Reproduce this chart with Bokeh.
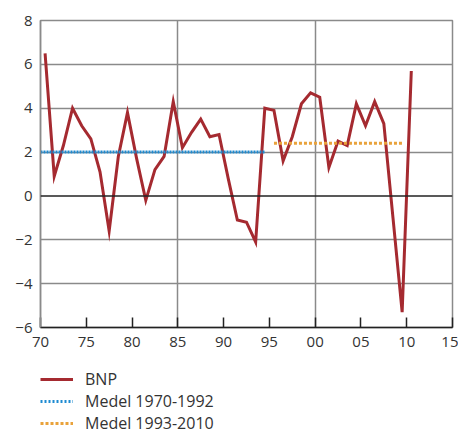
from bokeh.plotting import figure
from bokeh.layouts import column
from bokeh.models import FixedTicker, Span, Legend, LegendItem, Range1d
from bokeh.embed import file_html
from bokeh.resources import INLINE

# Data
years = [1970, 1971, 1972, 1973, 1974, 1975, 1976, 1977, 1978, 1979,
         1980, 1981, 1982, 1983, 1984, 1985, 1986, 1987, 1988, 1989,
         1990, 1991, 1992, 1993, 1994, 1995, 1996, 1997, 1998, 1999,
         2000, 2001, 2002, 2003, 2004, 2005, 2006, 2007, 2008, 2009, 2010]
bnp = [6.5, 0.9, 2.3, 4.0, 3.2, 2.6, 1.1, -1.6, 1.8, 3.8,
       1.7, -0.2, 1.2, 1.8, 4.3, 2.2, 2.9, 3.5, 2.7, 2.8,
       0.8, -1.1, -1.2, -2.1, 4.0, 3.9, 1.6, 2.7, 4.2, 4.7,
       4.5, 1.3, 2.5, 2.3, 4.2, 3.2, 4.3, 3.3, -1.0, -5.3, 5.7]
medel1_span = [1970.0, 1994.5]
medel1_value = 2.0
medel2_span = [1995.5, 2009.5]
medel2_value = 2.4
x_ticks = [1970, 1975, 1980, 1985, 1990, 1995, 2000, 2005, 2010, 2015]
x_tick_labels = ["70", "75", "80", "85", "90", "95", "00", "05", "10", "15"]
y_ticks = [-6, -4, -2, 0, 2, 4, 6, 8]
series_labels = ["BNP", "Medel 1970-1992", "Medel 1993-2010"]

FONT = "Open Sans"
TXT = "#333333"
GRID = "#8a8a8a"
RED, BLUE, ORANGE = "#A52A30", "#1E8BD2", "#E9A23B"

p = figure(width=458, height=360, output_backend="svg", toolbar_location=None,
           x_range=Range1d(1970, 2015), y_range=Range1d(-6, 8),
           min_border_left=40, min_border_right=6, min_border_top=20,
           min_border_bottom=33)
p.outline_line_color = GRID
p.outline_line_width = 1.5

# grids
p.xgrid.ticker = FixedTicker(ticks=[1985, 2000])
p.xgrid.grid_line_color = GRID
p.xgrid.grid_line_width = 1.5
p.ygrid.ticker = FixedTicker(ticks=[-4, -2, 2, 4, 6])
p.ygrid.grid_line_color = GRID
p.ygrid.grid_line_width = 1.5
p.add_layout(Span(location=0, dimension="width", line_color="#222222", line_width=1.5))

# axes
p.xaxis.ticker = FixedTicker(ticks=x_ticks)
p.xaxis.major_label_overrides = {t: l for t, l in zip(x_ticks, x_tick_labels)}
p.xaxis.axis_line_color = "#222222"
p.xaxis.axis_line_width = 1.5
p.xaxis.major_tick_in = 10
p.xaxis.major_tick_out = 0
p.xaxis.major_tick_line_color = "#222222"
p.xaxis.major_tick_line_width = 1.5
p.xaxis.minor_tick_line_color = None
p.xaxis.major_label_standoff = 9
p.xaxis.major_label_text_font = FONT
p.xaxis.major_label_text_font_size = "15px"
p.xaxis.major_label_text_color = TXT

p.yaxis.ticker = FixedTicker(ticks=y_ticks)
p.yaxis.axis_line_color = GRID
p.yaxis.axis_line_width = 1.5
p.yaxis.major_tick_line_color = None
p.yaxis.minor_tick_line_color = None
p.yaxis.major_tick_in = 0
p.yaxis.major_tick_out = 0
p.yaxis.major_label_standoff = 8
p.yaxis.major_label_text_font = FONT
p.yaxis.major_label_text_font_size = "15px"
p.yaxis.major_label_text_color = TXT

xs = [y + 0.5 for y in years]
p.line(xs, bnp, line_color=RED, line_width=3, line_join="miter")
p.line(medel1_span, [medel1_value] * 2, line_color=BLUE, line_width=3, line_dash="2 1")
p.line(medel2_span, [medel2_value] * 2, line_color=ORANGE, line_width=3, line_dash="3 2")

# legend panel below the chart (keys are placeholder renderers holding no visible point)
nan = float("nan")
lg = figure(width=458, height=74, output_backend="svg", toolbar_location=None,
            x_range=Range1d(0, 1), y_range=Range1d(0, 1),
            x_axis_location=None, y_axis_location=None,
            min_border_left=0, min_border_right=0, min_border_top=0, min_border_bottom=0)
lg.outline_line_color = None
lg.xgrid.visible = False
lg.ygrid.visible = False
k1 = lg.line([nan], [nan], line_color=RED, line_width=3)
k2 = lg.line([nan], [nan], line_color=BLUE, line_width=3, line_dash="2 2")
k3 = lg.line([nan], [nan], line_color=ORANGE, line_width=3, line_dash="3 2")

legend = Legend(items=[LegendItem(label=series_labels[0], renderers=[k1]),
                       LegendItem(label=series_labels[1], renderers=[k2]),
                       LegendItem(label=series_labels[2], renderers=[k3])],
                location=(0, 0), orientation="vertical",
                padding=0, margin=0, spacing=0,
                glyph_width=33, glyph_height=22, label_height=22,
                label_standoff=12,
                label_text_font=FONT, label_text_font_size="16px",
                label_text_color=TXT,
                border_line_color=None, background_fill_alpha=0)
lg.add_layout(legend, "center")

layout = column(p, lg, spacing=0)
open("out.html", "w").write(file_html(layout, INLINE))
